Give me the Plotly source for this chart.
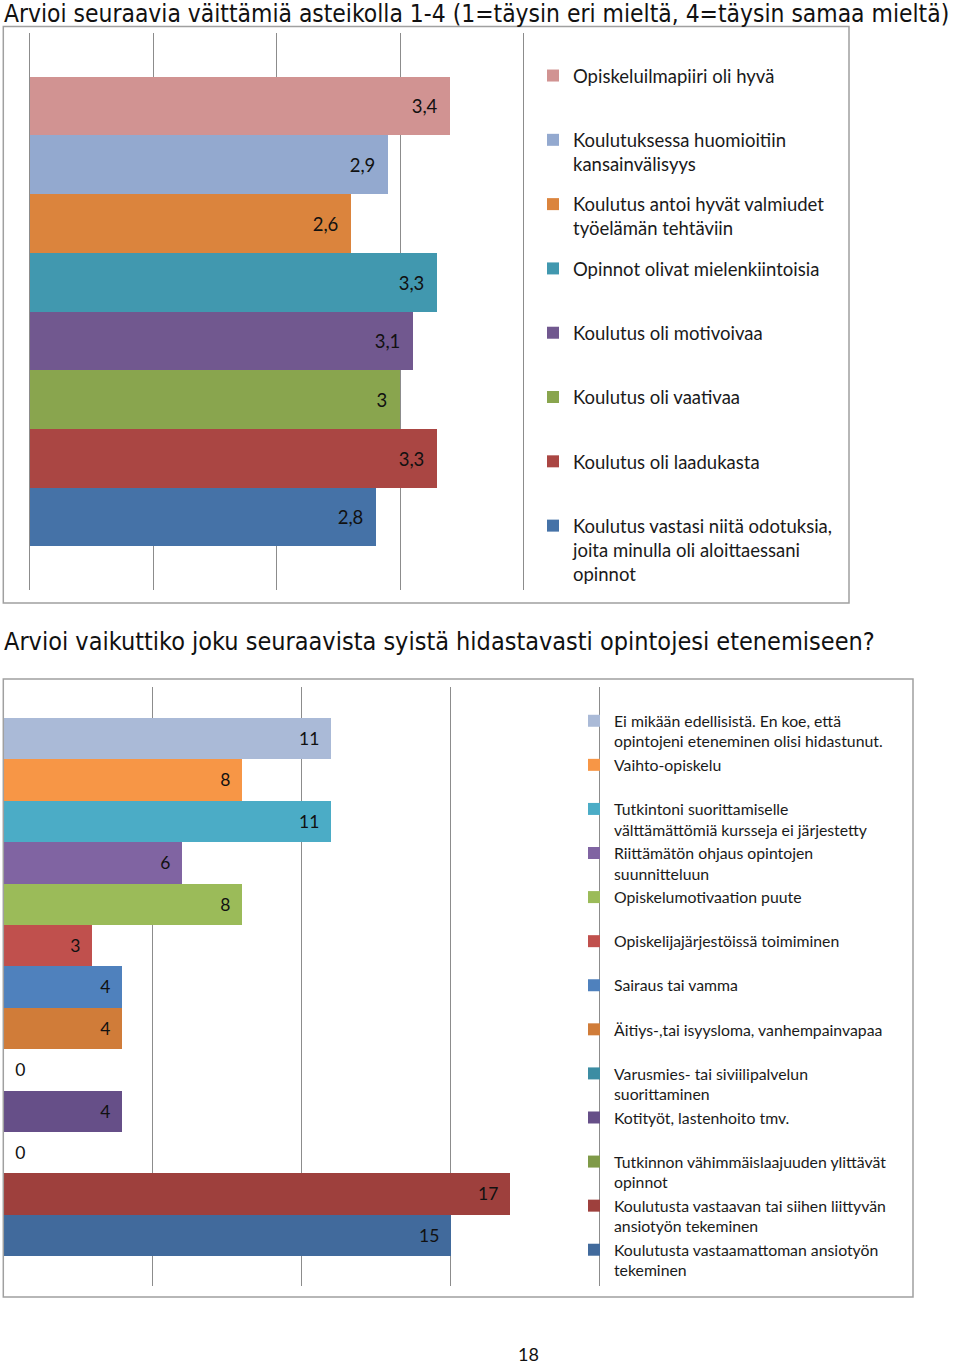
import plotly.graph_objects as go

W, H = 960, 1366

# ---------------- Chart 1 data ----------------
title1 = "Arvioi seuraavia väittämiä asteikolla 1-4 (1=täysin eri mieltä, 4=täysin samaa mieltä)"
cats1 = [
    "Opiskeluilmapiiri oli hyvä",
    "Koulutuksessa huomioitiin<br>kansainvälisyys",
    "Koulutus antoi hyvät valmiudet<br>työelämän tehtäviin",
    "Opinnot olivat mielenkiintoisia",
    "Koulutus oli motivoivaa",
    "Koulutus oli vaativaa",
    "Koulutus oli laadukasta",
    "Koulutus vastasi niitä odotuksia,<br>joita minulla oli aloittaessani<br>opinnot",
]
vals1 = [3.4, 2.9, 2.6, 3.3, 3.1, 3.0, 3.3, 2.8]
colors1 = ["#D19392", "#93A9CF", "#DB843D", "#4198AF", "#71588F", "#89A54E", "#AA4643", "#4572A7"]

# ---------------- Chart 2 data ----------------
title2 = "Arvioi vaikuttiko joku seuraavista syistä hidastavasti opintojesi etenemiseen?"
cats2 = [
    "Ei mikään edellisistä. En koe, että<br>opintojeni eteneminen olisi hidastunut.",
    "Vaihto-opiskelu",
    "Tutkintoni suorittamiselle<br>välttämättömiä kursseja ei järjestetty",
    "Riittämätön ohjaus opintojen<br>suunnitteluun",
    "Opiskelumotivaation puute",
    "Opiskelijajärjestöissä toimiminen",
    "Sairaus tai vamma",
    "Äitiys-,tai isyysloma, vanhempainvapaa",
    "Varusmies- tai siviilipalvelun<br>suorittaminen",
    "Kotityöt, lastenhoito tmv.",
    "Tutkinnon vähimmäislaajuuden ylittävät<br>opinnot",
    "Koulutusta vastaavan tai siihen liittyvän<br>ansiotyön tekeminen",
    "Koulutusta vastaamattoman ansiotyön<br>tekeminen",
]
vals2 = [11, 8, 11, 6, 8, 3, 4, 4, 0, 4, 0, 17, 15]
colors2 = ["#AABAD7", "#F79646", "#4BACC6", "#8064A2", "#9BBB59", "#C0504D", "#4F81BD",
           "#D07C39", "#3C8DA3", "#664F88", "#7F9A48", "#9E403D", "#416A9C"]
page_number = "18"

LEG_FONT = "Lato"
NBSP = "\u00a0"


def px_x(p):
    return p / W


def px_y(p):
    return 1 - p / H


def fmt(v):
    return f"{v:g}".replace(".", ",")


def pad_lines(label, n):
    k = label.count("<br>") + 1
    return label + "<br>" * (n - k) + (NBSP if k < n else "")


fig = go.Figure()

for i, (c, v, col) in enumerate(zip(cats1, vals1, colors1)):
    fig.add_trace(go.Bar(
        x=[v], y=[c], orientation="h", name=pad_lines(c, 2),
        marker=dict(color=col, line=dict(width=0)),
        text=[fmt(v) + NBSP * 2], textposition="inside", insidetextanchor="end",
        textfont=dict(family=LEG_FONT, size=18.5, color="#111111"),
        xaxis="x", yaxis="y", legend="legend", legendgroup=f"a{i}",
        hoverinfo="skip",
    ))

for i, (c, v, col) in enumerate(zip(cats2, vals2, colors2)):
    fig.add_trace(go.Bar(
        x=[v], y=[c], orientation="h", name=pad_lines(c, 2),
        marker=dict(color=col, line=dict(width=0)),
        text=[fmt(v) + NBSP * 2] if v > 0 else [NBSP * 2 + fmt(v)],
        textposition="inside" if v > 0 else "outside", insidetextanchor="end",
        textfont=dict(family=LEG_FONT, size=17.5, color="#111111"),
        xaxis="x2", yaxis="y2", legend="legend2", legendgroup=f"b{i}",
        cliponaxis=False, hoverinfo="skip",
    ))

grid = "#8C8C8C"
s1 = 123.55          # px per unit, chart 1
s2 = 29.83           # px per unit, chart 2
e1 = 0.03
e2l, e2r = 0.1, 0.15
fig.update_layout(
    width=W, height=H, margin=dict(l=0, r=0, t=0, b=0),
    paper_bgcolor="white", plot_bgcolor="white",
    barmode="overlay", bargap=0,
    xaxis=dict(domain=[px_x(29.5 - e1 * s1), px_x(523.7 + e1 * s1)],
               range=[-e1, 4 + e1], tick0=0, dtick=1,
               showticklabels=False, showgrid=True, gridcolor=grid, gridwidth=1,
               zeroline=False, showline=False, ticks="", anchor="y", fixedrange=True),
    yaxis=dict(domain=[px_y(590), px_y(33)], type="category", categoryarray=cats1,
               range=[8.244, -1.244], showticklabels=False, showgrid=False,
               zeroline=False, showline=False, ticks="", anchor="x", fixedrange=True),
    xaxis2=dict(domain=[px_x(3.3 - e2l * s2), px_x(600 + e2r * s2)],
                range=[-e2l, 20 + e2r], tick0=0, dtick=5,
                showticklabels=False, showgrid=True, gridcolor=grid, gridwidth=1,
                zeroline=False, showline=False, ticks="", anchor="y2", fixedrange=True),
    yaxis2=dict(domain=[px_y(1286), px_y(686.7)], type="category", categoryarray=cats2,
                range=[13.225, -1.249], showticklabels=False, showgrid=False,
                zeroline=False, showline=False, ticks="", anchor="x2", fixedrange=True),
    legend=dict(x=px_x(533), xanchor="left", y=px_y(57), yanchor="top",
                font=dict(family=LEG_FONT, size=18.5, color="#1a1a1a"),
                traceorder="grouped", tracegroupgap=13.2, valign="top",
                bgcolor="rgba(0,0,0,0)", borderwidth=0),
    legend2=dict(x=px_x(574), xanchor="left", y=px_y(704), yanchor="top",
                 font=dict(family=LEG_FONT, size=15.8, color="#1a1a1a"),
                 traceorder="grouped", tracegroupgap=0, valign="top",
                 bgcolor="rgba(0,0,0,0)", borderwidth=0),
    showlegend=True,
)

box = "#A0A0A0"
fig.add_shape(type="rect", xref="paper", yref="paper",
              x0=px_x(3.3), x1=px_x(849), y0=px_y(603), y1=px_y(26.5),
              line=dict(color=box, width=1.5), fillcolor="rgba(0,0,0,0)", layer="above")
fig.add_shape(type="rect", xref="paper", yref="paper",
              x0=px_x(3.3), x1=px_x(913), y0=px_y(1297), y1=px_y(679),
              line=dict(color=box, width=1.5), fillcolor="rgba(0,0,0,0)", layer="above")

TITLE_FONT = "DejaVu Sans Condensed, DejaVu Sans"
fig.add_annotation(text=title1, xref="paper", yref="paper", x=px_x(2), y=px_y(13.5),
                   xanchor="left", yanchor="middle", showarrow=False,
                   font=dict(family=TITLE_FONT, size=24.4, color="#111111"))
fig.add_annotation(text=title2, xref="paper", yref="paper", x=px_x(2), y=px_y(641),
                   xanchor="left", yanchor="middle", showarrow=False,
                   font=dict(family=TITLE_FONT, size=25, color="#111111"))
fig.add_annotation(text=page_number, xref="paper", yref="paper", x=px_x(528), y=px_y(1354),
                   xanchor="center", yanchor="middle", showarrow=False,
                   font=dict(family=LEG_FONT, size=18, color="#111111"))

fig.write_html("out.html", config={"displayModeBar": False},
               post_script="document.body.style.margin='0';")
